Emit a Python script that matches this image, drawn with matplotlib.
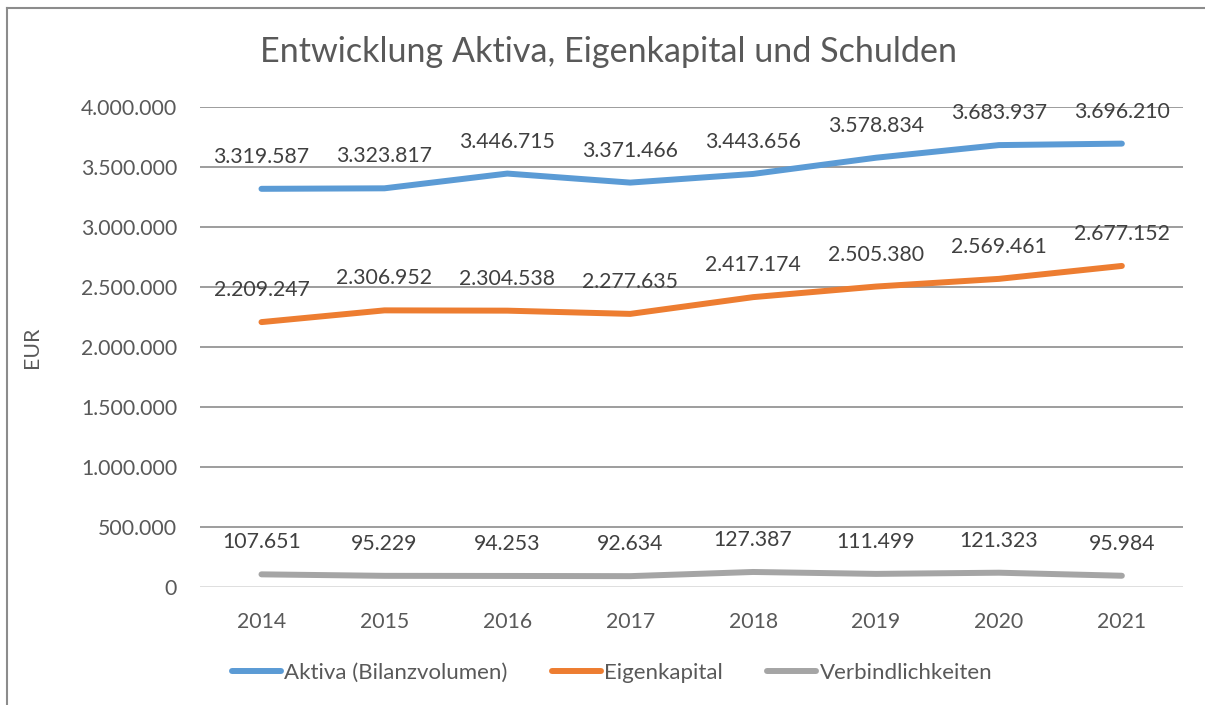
"""Entwicklung Aktiva, Eigenkapital und Schulden - line chart."""
import matplotlib
matplotlib.use('Agg')
import matplotlib.pyplot as plt
from matplotlib.lines import Line2D

plt.rcParams.update({
    'font.family': ['Lato', 'DejaVu Sans'],
})

# --- data ---
years = ['2014', '2015', '2016', '2017', '2018', '2019', '2020', '2021']
aktiva = [3319587, 3323817, 3446715, 3371466, 3443656, 3578834, 3683937, 3696210]
eigenkapital = [2209247, 2306952, 2304538, 2277635, 2417174, 2505380, 2569461, 2677152]
verbindlichkeiten = [107651, 95229, 94253, 92634, 127387, 111499, 121323, 95984]
series_names = ['Aktiva (Bilanzvolumen)', 'Eigenkapital', 'Verbindlichkeiten']
y_ticks = [0, 500000, 1000000, 1500000, 2000000, 2500000, 3000000, 3500000, 4000000]

C = {
    'blue': '#5B9BD5',
    'orange': '#ED7D31',
    'gray': '#A5A5A5',
    'text': '#595959',
    'grid': '#8C8C8C',
    'zero': '#D9D9D9',
    'frame': '#8C8C8C',
}


def de_fmt(v):
    return f'{v:,.0f}'.replace(',', '.')


fig = plt.figure(figsize=(12.05, 7.05), dpi=100)
ax = fig.add_axes([0.166, 0.167, 0.816, 0.681])

x = list(range(len(years)))
series = [aktiva, eigenkapital, verbindlichkeiten]
colors = [C['blue'], C['orange'], C['gray']]

for vals, col in zip(series, colors):
    ax.plot(x, vals, color=col, lw=4.3, solid_capstyle='round', zorder=3)
    for xi, v in zip(x, vals):
        ax.annotate(de_fmt(v), (xi, v), xytext=(0, 23), textcoords='offset points',
                    ha='center', va='center', fontsize=15.3, color='#404040', zorder=4)

ax.set_xlim(-0.5, len(years) - 0.5)
ax.set_ylim(0, 4000000)
ax.set_xticks(x)
ax.set_xticklabels(years)
ax.set_yticks(y_ticks)
ax.set_yticklabels([de_fmt(t) for t in y_ticks])
ax.tick_params(axis='both', length=0, labelsize=15.3, labelcolor=C['text'])
ax.tick_params(axis='x', pad=18)
ax.tick_params(axis='y', pad=16.5)

for t in y_ticks[1:]:
    ax.axhline(t, color=C['grid'], lw=1.2, zorder=1)
ax.axhline(0, color=C['zero'], lw=1.2, zorder=1)
for s in ax.spines.values():
    s.set_visible(False)

fig.text(32 / 1205, 1 - 347 / 705, 'EUR', rotation=90, ha='center', va='center',
         fontsize=15.3, color=C['text'])
fig.text(0.505, 0.926, 'Entwicklung Aktiva, Eigenkapital und Schulden',
         ha='center', va='center', fontsize=24.6, color=C['text'])

handles = [Line2D([0], [0], color=c, lw=4.3, solid_capstyle='round') for c in colors]
fig.legend(handles, series_names, loc='center', bbox_to_anchor=(0.508, 0.046),
           ncol=3, frameon=False, fontsize=16, labelcolor=C['text'],
           handlelength=2.2, handletextpad=0.15, columnspacing=2.0)

# outer chart frame (left and top edges visible)
fig.add_artist(Line2D([0.0058, 0.0058], [0, 0.989], color=C['frame'], lw=1.5,
                      transform=fig.transFigure))
fig.add_artist(Line2D([0.0058, 1.0], [0.989, 0.989], color=C['frame'], lw=1.5,
                      transform=fig.transFigure))

fig.savefig('out.png', dpi=100, facecolor='white')
